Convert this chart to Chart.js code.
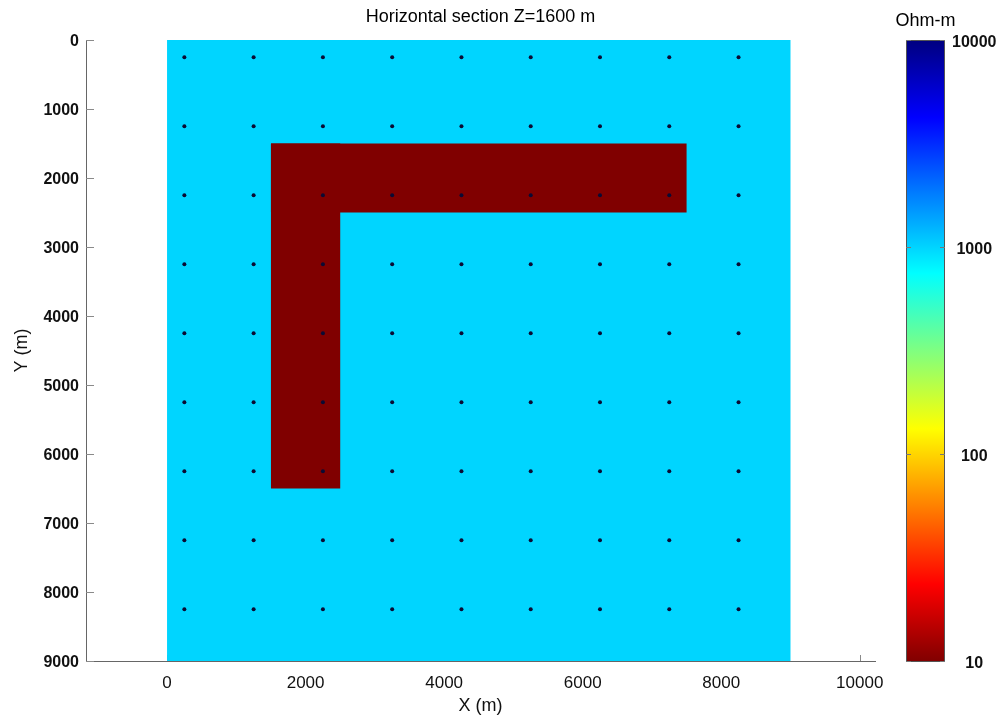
<!DOCTYPE html>
<html>
<head>
<meta charset="utf-8">
<script src="https://cdn.jsdelivr.net/npm/chart.js@4"></script>
<style>
  body { margin: 0; background: #fff; }
  canvas { display: block; }
</style>
</head>
<body>
<canvas id="section" width="1002" height="723"></canvas>
<script>
// ----------------------------
// Model: resistivity blocks (m, Ohm-m)
// ----------------------------
const blockX0 = [0, 1500, 1500];
const blockX1 = [9000, 7500, 2500];
const blockY0 = [0, 1500, 1500];
const blockY1 = [9000, 2500, 6500];
const blockRho = [1000, 10, 10];

// Station grid
const stationX = [250, 1250, 2250, 3250, 4250, 5250, 6250, 7250, 8250];
const stationY = [250, 1250, 2250, 3250, 4250, 5250, 6250, 7250, 8250];

// Tick labels
const xTicks = [0, 2000, 4000, 6000, 8000, 10000];
const yTicks = [0, 1000, 2000, 3000, 4000, 5000, 6000, 7000, 8000, 9000];
const cbTicks = [10, 100, 1000, 10000];

const FONT = "'Liberation Sans', Arial, Helvetica, sans-serif";

// ----------------------------
// Jet colormap, reversed (low = red, high = blue), on a log scale
// ----------------------------
function jet(t) {
    const x = 1 - t;
    const c = v => Math.round(255 * Math.min(1, Math.max(0, v)));
    const r = c(1.5 - Math.abs(4 * x - 3));
    const g = c(1.5 - Math.abs(4 * x - 2));
    const b = c(1.5 - Math.abs(4 * x - 1));
    return `rgb(${r},${g},${b})`;
}

const logMin = Math.log10(cbTicks[0]);
const logMax = Math.log10(cbTicks[cbTicks.length - 1]);

function rhoColor(rho) {
    return jet((Math.log10(rho) - logMin) / (logMax - logMin));
}

// Each block becomes a closed, filled outline
const blockSets = blockRho.map((rho, i) => ({
    label: "block " + i,
    data: [
        { x: blockX0[i], y: blockY0[i] },
        { x: blockX1[i], y: blockY0[i] },
        { x: blockX1[i], y: blockY1[i] },
        { x: blockX0[i], y: blockY1[i] },
        { x: blockX0[i], y: blockY0[i] }
    ],
    showLine: true,
    fill: "shape",
    backgroundColor: rhoColor(rho),
    borderColor: "transparent",
    borderWidth: 0,
    pointRadius: 0,
    pointHitRadius: 0,
    tension: 0,
    order: i === 0 ? 3 : 2
}));

const stations = [];
stationY.forEach(y => stationX.forEach(x => stations.push({ x, y })));

// no extra label padding above/below the plot
function fixHeight(h) {
    return s => { s.height = h; s.paddingLeft = 0; s.paddingRight = 0; };
}
function fixWidth(w) {
    return s => { s.width = w; s.paddingTop = 0; s.paddingBottom = 0; };
}

// ----------------------------
// Inner tick marks (under the model)
// ----------------------------
const innerTicks = {
    id: "innerTicks",
    beforeDatasetsDraw(chart) {
        const { ctx, chartArea, scales } = chart;
        ctx.save();
        ctx.strokeStyle = "#8a8a8a";
        ctx.lineWidth = 1;
        ctx.beginPath();
        yTicks.forEach(v => {
            const py = Math.round(scales.y.getPixelForValue(v)) + 0.5;
            ctx.moveTo(chartArea.left, py);
            ctx.lineTo(chartArea.left + 8, py);
        });
        xTicks.forEach(v => {
            const px = Math.round(scales.x.getPixelForValue(v)) + 0.5;
            ctx.moveTo(px, chartArea.bottom);
            ctx.lineTo(px, chartArea.bottom - 6);
        });
        ctx.stroke();
        ctx.restore();
    }
};

// ----------------------------
// Colorbar, title and unit label
// ----------------------------
const colorbar = {
    id: "colorbar",
    afterDraw(chart) {
        const { ctx, chartArea } = chart;
        const cb = chart.scales.cb;
        const left = cb.left + 31;
        const width = 39;
        const top = cb.getPixelForValue(cbTicks[cbTicks.length - 1]);
        const bottom = cb.getPixelForValue(cbTicks[0]) + 1;

        const grad = ctx.createLinearGradient(0, bottom, 0, top);
        for (let i = 0; i <= 64; i++) {
            grad.addColorStop(i / 64, jet(i / 64));
        }
        ctx.save();
        ctx.fillStyle = grad;
        ctx.fillRect(left, top, width, bottom - top);
        ctx.strokeStyle = "#555";
        ctx.lineWidth = 1;
        ctx.strokeRect(left + 0.5, top + 0.5, width - 1, bottom - top - 1);

        // small ticks on both inner edges
        ctx.strokeStyle = "#777";
        ctx.beginPath();
        cbTicks.forEach(v => {
            const py = Math.round(cb.getPixelForValue(v)) + 0.5;
            ctx.moveTo(left, py);
            ctx.lineTo(left + 5, py);
            ctx.moveTo(left + width, py);
            ctx.lineTo(left + width - 5, py);
        });
        ctx.stroke();

        ctx.fillStyle = "#000";
        ctx.textAlign = "center";
        ctx.textBaseline = "middle";
        ctx.font = "18px " + FONT;
        ctx.fillText("Ohm-m", left + width / 2, 21);
        ctx.fillText("Horizontal section Z=1600 m", (chartArea.left + chartArea.right) / 2, 17);
        ctx.restore();
    }
};

const ctx = document.getElementById("section").getContext("2d");

new Chart(ctx, {
    type: "scatter",
    data: {
        datasets: [
            {
                label: "stations",
                data: stations,
                pointRadius: 2,
                pointBackgroundColor: "#0b0b33",
                pointBorderWidth: 0,
                order: 1
            },
            ...blockSets
        ]
    },
    options: {
        responsive: false,
        devicePixelRatio: 1,
        animation: false,
        layout: { padding: { top: 40, left: 0, right: 0, bottom: 0 } },
        plugins: {
            legend: { display: false },
            tooltip: { enabled: false },
            title: { display: false }
        },
        scales: {
            x: {
                type: "linear",
                min: -1170,
                max: 10220,
                afterBuildTicks: s => { s.ticks = xTicks.map(v => ({ value: v })); },
                afterFit: fixHeight(62),
                grid: { drawOnChartArea: false, drawTicks: false },
                border: { display: true, color: "#666", width: 1 },
                ticks: {
                    padding: 12,
                    color: "#111",
                    font: { family: FONT, size: 17 },
                    callback: v => String(v)
                },
                title: {
                    display: true,
                    text: "X (m)",
                    color: "#111",
                    font: { family: FONT, size: 18 },
                    padding: { top: 0, bottom: 6 }
                }
            },
            y: {
                type: "linear",
                reverse: true,
                min: 0,
                max: 9000,
                afterBuildTicks: s => { s.ticks = yTicks.map(v => ({ value: v })); },
                afterFit: fixWidth(86),
                grid: { drawOnChartArea: false, drawTicks: false },
                border: { display: true, color: "#666", width: 1 },
                ticks: {
                    padding: 7,
                    labelOffset: 2,
                    color: "#111",
                    font: { family: FONT, size: 16, weight: "bold" },
                    callback: v => String(v)
                },
                title: {
                    display: true,
                    text: "Y (m)",
                    color: "#111",
                    font: { family: FONT, size: 18 },
                    padding: { top: 11, bottom: 0 }
                }
            },
            cb: {
                type: "logarithmic",
                position: "right",
                min: cbTicks[0],
                max: cbTicks[cbTicks.length - 1],
                afterBuildTicks: s => { s.ticks = cbTicks.map(v => ({ value: v })); },
                afterFit: fixWidth(127),
                grid: { display: false, drawTicks: false },
                border: { display: false },
                ticks: {
                    padding: 77,
                    labelOffset: 3,
                    crossAlign: "center",
                    color: "#111",
                    font: { family: FONT, size: 16, weight: "bold" },
                    callback: v => String(v)
                }
            }
        }
    },
    plugins: [innerTicks, colorbar]
});
</script>
</body>
</html>
